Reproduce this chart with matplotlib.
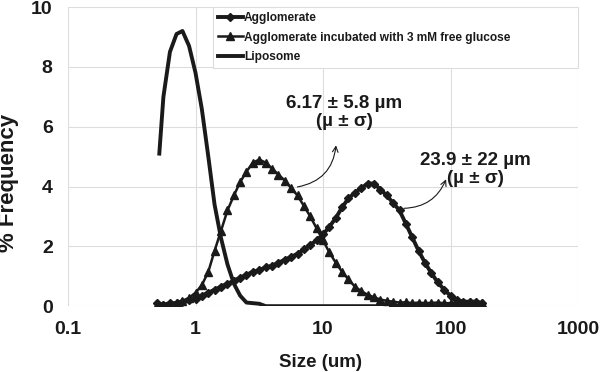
import matplotlib
matplotlib.use('Agg')
import matplotlib.pyplot as plt

plt.rcParams['font.family'] = ['Liberation Sans', 'DejaVu Sans']
plt.rcParams['font.weight'] = 'bold'

# size bins (um)
size = [0.50, 0.56, 0.63, 0.71, 0.79, 0.89, 1.00, 1.12, 1.26, 1.41, 1.58, 1.78,
        2.00, 2.24, 2.51, 2.82, 3.16, 3.55, 3.98, 4.47, 5.01, 5.62, 6.31, 7.08,
        7.94, 8.91, 10.0, 11.2, 12.6, 14.1, 15.8, 17.8, 20.0, 22.4, 25.1, 28.2,
        31.6, 35.5, 39.8, 44.7, 50.1, 56.2, 63.1, 70.8, 79.4, 89.1, 100, 112,
        126, 141, 158, 178]

agglomerate = [0.10, 0.05, 0.10, 0.10, 0.15, 0.20, 0.25, 0.35, 0.45, 0.55, 0.65, 0.75,
               0.85, 0.95, 1.05, 1.15, 1.20, 1.30, 1.35, 1.45, 1.55, 1.65, 1.75, 1.90,
               2.05, 2.20, 2.40, 2.65, 2.95, 3.30, 3.60, 3.80, 3.95, 4.10, 4.10, 3.90,
               3.70, 3.45, 3.20, 2.75, 2.30, 1.85, 1.45, 1.10, 0.80, 0.55, 0.35, 0.20,
               0.15, 0.15, 0.15, 0.10]

glucose = [0.05, 0.05, 0.08, 0.12, 0.18, 0.28, 0.45, 0.70, 1.15, 1.85, 2.50, 3.20,
           3.70, 4.15, 4.50, 4.80, 4.90, 4.80, 4.60, 4.40, 4.20, 3.95, 3.70, 3.35,
           3.00, 2.60, 2.20, 1.80, 1.45, 1.15, 0.90, 0.65, 0.50, 0.38, 0.30, 0.22,
           0.18, 0.15, 0.12, 0.13, 0.10, 0.12, 0.10, 0.11, 0.12, 0.10, 0.10, 0.11,
           0.12, 0.13, 0.10, 0.12]

lipo_size = [0.52, 0.56, 0.63, 0.71, 0.79, 0.89, 1.00, 1.12, 1.26, 1.41, 1.58, 1.78,
             2.00, 2.24, 2.51, 2.82, 3.16, 3.55, 3.98, 178]
liposome = [5.10, 7.00, 8.50, 9.10, 9.20, 8.70, 7.80, 6.60, 5.00, 3.40, 2.30, 1.40,
            0.75, 0.35, 0.12, 0.10, 0.08, 0.00, 0.00, 0.00]

xticks = [0.1, 1, 10, 100, 1000]
xticklabels = ['0.1', '1', '10', '100', '1000']
yticks = [0, 2, 4, 6, 8, 10]

ink = '#1a1a1a'

fig = plt.figure(figsize=(6.04, 3.72), dpi=100)
ax = fig.add_axes([0.1126, 0.177, 0.8444, 0.804])

ax.plot(size, agglomerate, color=ink, lw=2.8, marker='D', ms=4.5, label='Agglomerate')
ax.plot(size, glucose, color=ink, lw=1.8, marker='^', ms=5.5,
        label='Agglomerate incubated with 3 mM free glucose')
ax.plot(lipo_size, liposome, color=ink, lw=2.8, label='Liposome')

ax.set_xscale('log')
ax.set_xlim(0.1, 1000)
ax.set_ylim(0, 10)
ax.set_xticks(xticks)
ax.set_xticklabels(xticklabels)
ax.minorticks_off()
ax.set_yticks(yticks)
ax.grid(True, color='#dddddd', lw=0.8)
ax.set_axisbelow(True)
for s in ax.spines.values():
    s.set_visible(False)
ax.tick_params(length=0, labelsize=14, colors=ink)
ax.tick_params(axis='x', pad=11)
ax.tick_params(axis='y', pad=11)
for lab in ax.get_xticklabels() + ax.get_yticklabels():
    lab.set_fontweight('bold')

ax.set_xlabel('Size (um)', fontsize=13.5, fontweight='bold', color=ink)
ax.xaxis.set_label_coords(0.496, -0.16)
# y label placed by hand, it sits low and hugs the left edge
fig.text(9 / 604, 1 - 183 / 372, '% Frequency', rotation=90, fontsize=16,
         fontweight='bold', color=ink, ha='center', va='center')

leg = ax.legend(loc='upper left', bbox_to_anchor=(0.284, 0.0, 0.716, 1.0),
                mode='expand', fontsize=8.6, handlelength=2.1, handletextpad=0.1,
                borderpad=0.4, labelspacing=0.65, fancybox=False, framealpha=1,
                borderaxespad=0)
leg.get_frame().set_edgecolor('#dddddd')
leg.get_frame().set_linewidth(0.8)
for t in leg.get_texts():
    t.set_fontweight('bold')
    t.set_color(ink)

ax.text(14.7, 6.47, '6.17 ± 5.8 µm\n(µ ± σ)', fontsize=13.5, fontweight='bold',
        color=ink, ha='center', va='center', linespacing=1.1)
ax.annotate('', xy=(12.7, 5.47), xytext=(6.0, 3.97),
            arrowprops=dict(arrowstyle='->', color=ink, lw=0.8,
                            connectionstyle='arc3,rad=0.4'))
ax.text(156, 4.57, '23.9 ± 22 µm\n(µ ± σ)', fontsize=13.5, fontweight='bold',
        color=ink, ha='center', va='center', linespacing=1.1)
ax.annotate('', xy=(94, 4.33), xytext=(41, 3.27),
            arrowprops=dict(arrowstyle='->', color=ink, lw=0.8,
                            connectionstyle='arc3,rad=0.35'))

fig.savefig('out.png', dpi=100)
